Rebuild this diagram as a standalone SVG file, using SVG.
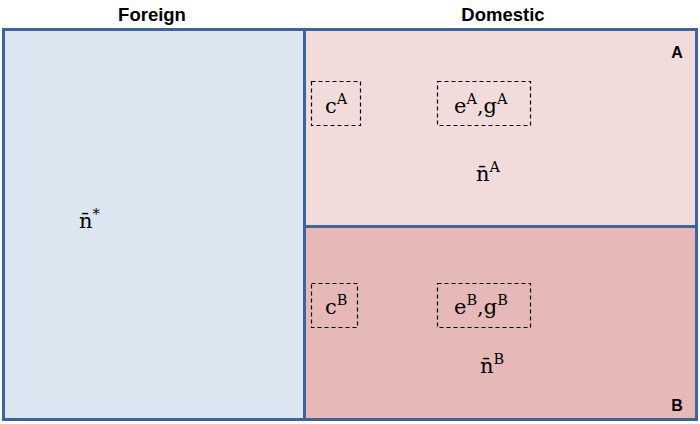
<svg xmlns="http://www.w3.org/2000/svg" width="700" height="424" viewBox="0 0 700 424">
<style>
.hd{font-family:"Liberation Sans",Arial,sans-serif;font-weight:bold;font-size:18.5px;fill:#000}
.lb{font-family:"Liberation Sans",Arial,sans-serif;font-weight:bold;font-size:16px;fill:#000}
.m{font-family:"DejaVu Serif","Liberation Serif",serif;font-size:21px;fill:#000}
.sup{font-size:14.5px}
.box{stroke:#3F6596;stroke-width:3}
.dash{fill:none;stroke:#000;stroke-width:1.2;stroke-dasharray:4,3}
</style>
<g id="foreign">
<rect class="box" x="3.5" y="29.5" width="301" height="390" fill="#DCE6F1"/>
<text class="m" x="79" y="228">n̄<tspan class="sup" dy="-9">*</tspan></text>
</g>
<g id="regionA">
<rect class="box" x="304.5" y="29.5" width="392" height="197" fill="#F2DCDB"/>
<text class="lb" x="677" y="58" text-anchor="middle">A</text>
</g>
<g id="regionB">
<rect class="box" x="304.5" y="226.5" width="392" height="193" fill="#E6B9B8"/>
<text class="lb" x="677" y="411" text-anchor="middle">B</text>
</g>
<g id="cA">
<rect class="dash" x="311.5" y="81.5" width="49" height="44"/>
<text class="m" x="325" y="113">c<tspan class="sup" dy="-9">A</tspan></text>
</g>
<g id="egA">
<rect class="dash" x="437.5" y="81.5" width="93" height="44"/>
<text class="m" x="454" y="113">e<tspan class="sup" dy="-9">A</tspan><tspan dy="9">,g</tspan><tspan class="sup" dy="-9">A</tspan></text>
</g>
<g id="nA">
<text class="m" x="476" y="181">n̄<tspan class="sup" dy="-9">A</tspan></text>
</g>
<g id="cB">
<rect class="dash" x="311.5" y="283.5" width="46" height="44"/>
<text class="m" x="325" y="314">c<tspan class="sup" dy="-9">B</tspan></text>
</g>
<g id="egB">
<rect class="dash" x="437.5" y="283.5" width="93" height="44"/>
<text class="m" x="454" y="314">e<tspan class="sup" dy="-9">B</tspan><tspan dy="9">,g</tspan><tspan class="sup" dy="-9">B</tspan></text>
</g>
<g id="nB">
<text class="m" x="480" y="373">n̄<tspan class="sup" dy="-9">B</tspan></text>
</g>
<g id="headers">
<text class="hd" x="152" y="21" text-anchor="middle">Foreign</text>
<text class="hd" x="503" y="21" text-anchor="middle">Domestic</text>
</g>
<g id="connectors"/>
</svg>
